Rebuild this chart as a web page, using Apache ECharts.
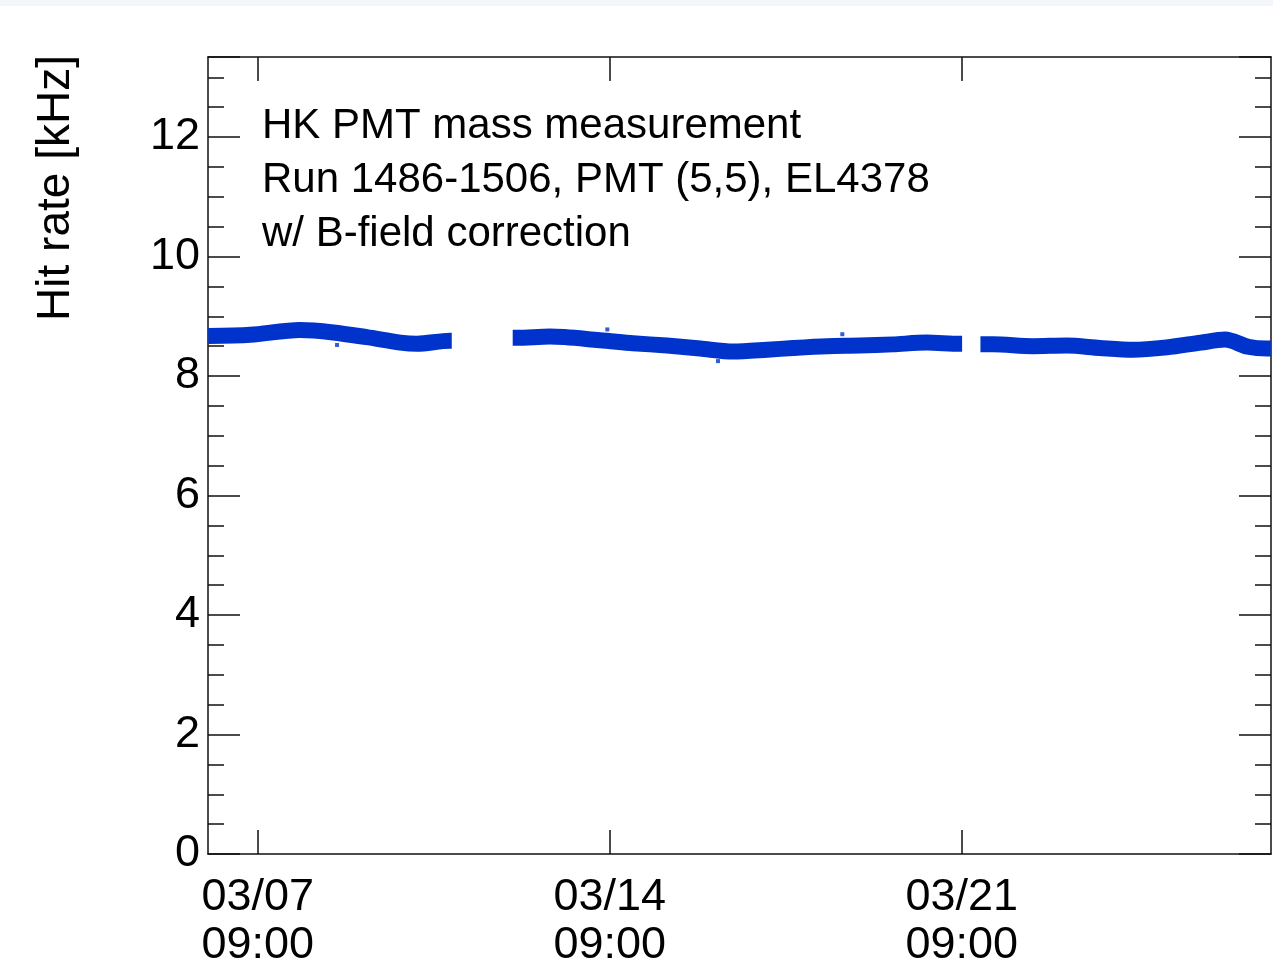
<!DOCTYPE html>
<html>
<head>
<meta charset="utf-8">
<script src="https://cdn.jsdelivr.net/npm/echarts@6/dist/echarts.min.js"></script>
<style>
  html, body { margin: 0; padding: 0; background: #fff; }
  #chart { width: 1273px; height: 973px; }
</style>
</head>
<body>
<div id="chart"></div>
<script>
// 数据：三段连续测量（时间 'MM/DD HH:mm'，计数率 kHz）
const seg1Times = ['03/06 09:20', '03/07 05:20', '03/08 05:10', '03/08 21:00', '03/09 13:00',
    '03/10 05:00', '03/10 13:00', '03/11 04:40', '03/11 05:35'];
const seg1Rates = [8.67, 8.69, 8.77, 8.73, 8.65, 8.56, 8.54, 8.59, 8.59];

const seg2Times = ['03/12 10:40', '03/12 12:40', '03/13 04:25', '03/14 04:15', '03/14 20:00',
    '03/15 12:20', '03/16 04:10', '03/16 19:50', '03/17 12:10', '03/18 00:30', '03/18 16:40',
    '03/19 08:20', '03/20 00:10', '03/20 16:10', '03/21 08:00', '03/21 09:10'];
const seg2Rates = [8.64, 8.64, 8.66, 8.60, 8.55, 8.51, 8.46, 8.41, 8.44, 8.47, 8.50,
    8.51, 8.53, 8.56, 8.54, 8.54];

const seg3Times = ['03/21 17:55', '03/22 00:00', '03/22 18:50', '03/23 11:10', '03/24 02:50',
    '03/24 18:40', '03/25 10:50', '03/26 03:10', '03/26 14:40', '03/27 01:40', '03/27 10:40',
    '03/27 12:30'];
const seg3Rates = [8.53, 8.53, 8.50, 8.51, 8.47, 8.44, 8.48, 8.56, 8.61, 8.49, 8.46, 8.46];

// 零散离群点
const outlierTimes = ['03/08 22:50', '03/14 07:50', '03/16 12:40', '03/19 00:00'];
const outlierRates = [8.52, 8.78, 8.25, 8.70];

const yTicks = [0, 2, 4, 6, 8, 10, 12];
const xTickLabels = ['03/07 09:00', '03/14 09:00', '03/21 09:00'];

const textLines = ['HK PMT mass measurement', 'Run 1486-1506, PMT (5,5), EL4378', 'w/ B-field correction'];

// 以 03/07 09:00 为零点，单位：天
const REF = Date.UTC(2000, 2, 7, 9, 0);
function toDays(s) {
    const [md, hm] = s.split(' ');
    const [mo, d] = md.split('/').map(Number);
    const [h, mi] = hm.split(':').map(Number);
    return (Date.UTC(2000, mo - 1, d, h, mi) - REF) / 86400000;
}
function pad(n) { return (n < 10 ? '0' : '') + n; }
function fmtDays(v) {
    const t = new Date(REF + Math.round(v * 86400000));
    return pad(t.getUTCMonth() + 1) + '/' + pad(t.getUTCDate()) + '\n' + pad(t.getUTCHours()) + ':' + pad(t.getUTCMinutes());
}
function pairs(times, rates) {
    return times.map((t, i) => [toDays(t), rates[i]]);
}

const xMin = -0.99, xMax = 20.15;
const yMin = 0, yMax = 13.34;
const xTickValues = xTickLabels.map(toDays);
const blue = '#0033cc';
const font = '"Liberation Sans", Arial, Helvetica, sans-serif';

const chart = echarts.init(document.getElementById('chart'));

const lineSeries = [[seg1Times, seg1Rates], [seg2Times, seg2Rates], [seg3Times, seg3Rates]].map(([t, r]) => ({
    type: 'line',
    xAxisIndex: 0,
    yAxisIndex: 0,
    data: pairs(t, r),
    showSymbol: false,
    symbol: 'none',
    smooth: 0.3,
    lineStyle: {color: blue, width: 16, cap: 'butt', join: 'round'},
    silent: true,
    animation: false
}));

const boxLine = {show: true, onZero: false, lineStyle: {color: '#111', width: 1.5}};
const tickStyle = {color: '#111', width: 1.5};

function xAxisOf(pos, withLabels) {
    return {
        type: 'value', position: pos, min: xMin, max: xMax,
        axisLine: boxLine,
        axisTick: {show: true, inside: true, length: 24, lineStyle: tickStyle, customValues: xTickValues},
        splitLine: {show: false},
        axisLabel: withLabels ? {
            show: true, customValues: xTickValues,
            color: '#000', fontSize: 45, fontFamily: font, lineHeight: 48, margin: 20,
            formatter: fmtDays
        } : {show: false}
    };
}

function yAxisOf(pos, withLabels) {
    return {
        type: 'value', position: pos, min: yMin, max: yMax, interval: 2,
        axisLine: boxLine,
        axisTick: {show: true, inside: true, length: 32, lineStyle: tickStyle},
        minorTick: {show: true, splitNumber: 4, length: 16, lineStyle: tickStyle},
        splitLine: {show: false},
        minorSplitLine: {show: false},
        axisLabel: withLabels ? {
            show: true, showMaxLabel: false, color: '#000', fontSize: 45, fontFamily: font, margin: 8,
            formatter: v => (yTicks.indexOf(v) >= 0 ? String(v) : '')
        } : {show: false}
    };
}

chart.setOption({
    animation: false,
    grid: {left: 208, top: 57, right: 2, bottom: 119, containLabel: false, outerBoundsMode: 'none'},
    xAxis: [xAxisOf('bottom', true), xAxisOf('top', false)],
    yAxis: [yAxisOf('left', true), yAxisOf('right', false)],
    graphic: [
        {type: 'rect', left: 0, top: 0, shape: {width: 1273, height: 6}, style: {fill: '#f2f6fa'}, silent: true},
        {
            type: 'text', x: 56, y: 188, rotation: Math.PI / 2,
            style: {text: 'Hit rate [kHz]', fill: '#000', fontSize: 46, fontFamily: font, align: 'center', verticalAlign: 'middle'}
        }
    ].concat(textLines.map((s, i) => ({
        type: 'text', x: 262, y: 126 + i * 54,
        style: {text: s, fill: '#000', fontSize: 42, fontFamily: font, align: 'left', verticalAlign: 'middle'}
    }))),
    series: lineSeries.concat([{
        type: 'scatter',
        xAxisIndex: 0,
        yAxisIndex: 0,
        data: pairs(outlierTimes, outlierRates),
        symbol: 'rect',
        symbolSize: 4,
        itemStyle: {color: blue},
        silent: true
    }])
});
</script>
</body>
</html>
